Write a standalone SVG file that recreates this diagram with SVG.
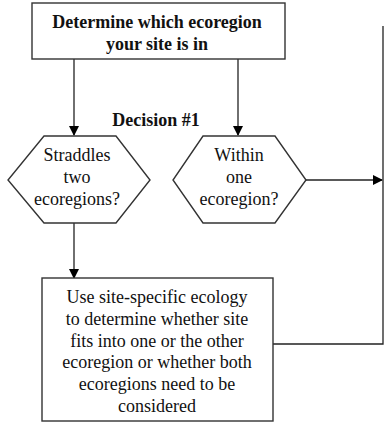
<svg xmlns="http://www.w3.org/2000/svg" width="385" height="424" viewBox="0 0 385 424">
<defs>
<marker id="ah" markerWidth="10" markerHeight="10" refX="9" refY="5" orient="auto" markerUnits="userSpaceOnUse">
<path d="M0,0 L10,5 L0,10 Z" fill="#000"/>
</marker>
</defs>
<rect width="385" height="424" fill="#fff"/>
<g id="connectors" fill="none" stroke="#222" stroke-width="1.3">
<line x1="74" y1="59" x2="74" y2="135" marker-end="url(#ah)"/>
<line x1="238" y1="59" x2="238" y2="135" marker-end="url(#ah)"/>
<line x1="74" y1="223" x2="74" y2="278" marker-end="url(#ah)"/>
<line x1="306" y1="180" x2="382" y2="180" marker-end="url(#ah)"/>
<polyline points="273,344 383,344 383,26"/>
</g>
<g id="top">
<rect x="32" y="3" width="253" height="56" fill="#fff" stroke="#333" stroke-width="1.4"/>
<text font-family="Liberation Serif" font-size="18" font-weight="bold" text-anchor="middle" fill="#111" x="157" y="28">Determine which ecoregion</text>
<text font-family="Liberation Serif" font-size="18" font-weight="bold" text-anchor="middle" fill="#111" x="157" y="50">your site is in</text>
</g>
<g id="label">
<text font-family="Liberation Serif" font-size="18" font-weight="bold" text-anchor="middle" fill="#111" x="156" y="126">Decision #1</text>
</g>
<g id="straddles">
<polygon points="44,136 116,136 150,180 116,223 44,223 8,180" fill="#fff" stroke="#333" stroke-width="1.4"/>
<text font-family="Liberation Serif" font-size="18" text-anchor="middle" fill="#111" x="77" y="161">Straddles</text>
<text font-family="Liberation Serif" font-size="18" text-anchor="middle" fill="#111" x="77" y="183">two</text>
<text font-family="Liberation Serif" font-size="18" text-anchor="middle" fill="#111" x="77" y="205">ecoregions?</text>
</g>
<g id="within">
<polygon points="203,136 275,136 306,180 275,223 203,223 173,180" fill="#fff" stroke="#333" stroke-width="1.4"/>
<text font-family="Liberation Serif" font-size="18" text-anchor="middle" fill="#111" x="239" y="161">Within</text>
<text font-family="Liberation Serif" font-size="18" text-anchor="middle" fill="#111" x="239" y="183">one</text>
<text font-family="Liberation Serif" font-size="18" text-anchor="middle" fill="#111" x="239" y="205">ecoregion?</text>
</g>
<g id="bottom">
<rect x="42" y="278" width="231" height="143" fill="#fff" stroke="#333" stroke-width="1.4"/>
<text font-family="Liberation Serif" font-size="18" text-anchor="middle" fill="#111" x="157" y="303">Use site-specific ecology</text>
<text font-family="Liberation Serif" font-size="18" text-anchor="middle" fill="#111" x="157" y="325">to determine whether site</text>
<text font-family="Liberation Serif" font-size="18" text-anchor="middle" fill="#111" x="157" y="347">fits into one or the other</text>
<text font-family="Liberation Serif" font-size="18" text-anchor="middle" fill="#111" x="157" y="368">ecoregion or whether both</text>
<text font-family="Liberation Serif" font-size="18" text-anchor="middle" fill="#111" x="157" y="390">ecoregions need to be</text>
<text font-family="Liberation Serif" font-size="18" text-anchor="middle" fill="#111" x="157" y="412">considered</text>
</g>
</svg>
